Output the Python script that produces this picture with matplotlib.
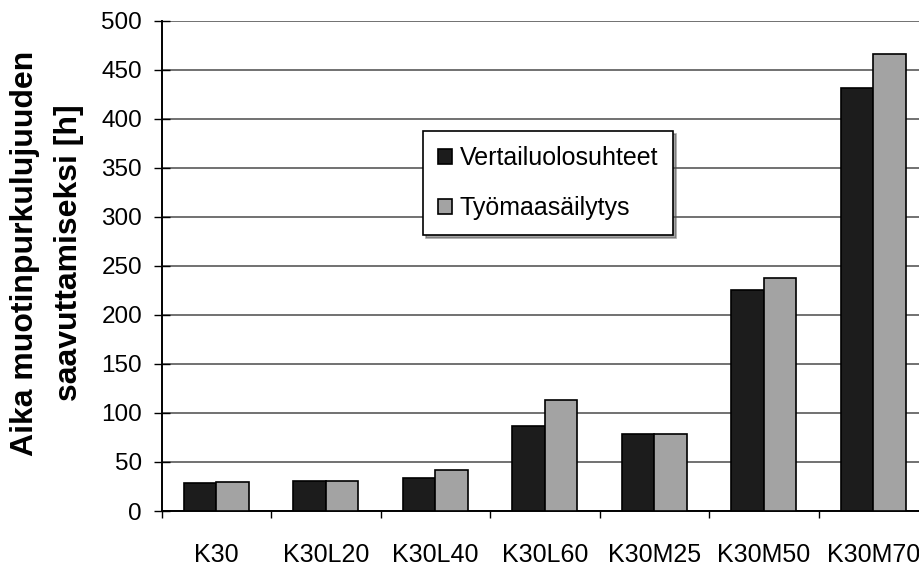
import matplotlib
matplotlib.use("Agg")
import matplotlib.pyplot as plt
import numpy as np

categories = ["K30", "K30L20", "K30L40", "K30L60", "K30M25", "K30M50", "K30M70"]
vertailu = [29, 30.5, 34, 87, 79, 225, 431]
tyomaa = [30, 31, 42, 113, 78, 238, 466]
series_labels = ["Vertailuolosuhteet", "Työmaasäilytys"]

plt.rcParams["font.family"] = ["Liberation Sans", "DejaVu Sans"]

W, H = 919, 567
left, right, bottom, top = 161.5, 928, 511, 20.5
fig = plt.figure(figsize=(W / 100, H / 100), dpi=100)
ax = fig.add_axes([left / W, (H - bottom) / H, (right - left) / W, (bottom - top) / H])

x = np.arange(len(categories))
w = 0.295
ax.bar(x - w / 2, vertailu, w, color="#1c1c1c", edgecolor="black", linewidth=1.2,
       label=series_labels[0], zorder=3)
ax.bar(x + w / 2, tyomaa, w, color="#a3a3a3", edgecolor="black", linewidth=1.2,
       label=series_labels[1], zorder=3)

ax.set_ylim(0, 500)
ax.set_xlim(-0.5, len(categories) - 0.5)
ax.set_yticks(range(0, 501, 50))
ax.yaxis.grid(True, color="#4a4a4a", linewidth=1.1, zorder=0)
ax.set_xticks(x)
ax.set_xticklabels(categories)
ax.set_xticks(np.arange(-0.5, len(categories), 1), minor=True)
ax.tick_params(axis="x", which="major", length=0, pad=23, labelsize=18)
ax.tick_params(axis="x", which="minor", length=5, width=1)
ax.tick_params(axis="y", direction="inout", length=12, width=1, labelsize=17.5, pad=8)

for side in ["top", "right"]:
    ax.spines[side].set_visible(False)
ax.spines["left"].set_linewidth(1.4)
ax.spines["bottom"].set_linewidth(1.4)

ax.set_ylabel("Aika muotinpurkulujuuden\nsaavuttamiseksi [h]", fontsize=23,
              fontweight="bold", linespacing=1.6)
ax.yaxis.set_label_coords((84 - left) / (right - left), 0.526)

leg = ax.legend(loc="upper left",
                bbox_to_anchor=((423 - left) / (right - left), (bottom - 131) / (bottom - top)),
                fontsize=18, frameon=True, fancybox=False, shadow=True,
                handlelength=0.56, handleheight=0.56, handletextpad=0.3,
                labelspacing=1.05, borderpad=0.6, borderaxespad=0)
leg.get_frame().set_edgecolor("black")
leg.get_frame().set_linewidth(1.2)

fig.savefig("out.png", dpi=100)
plt.close(fig)
